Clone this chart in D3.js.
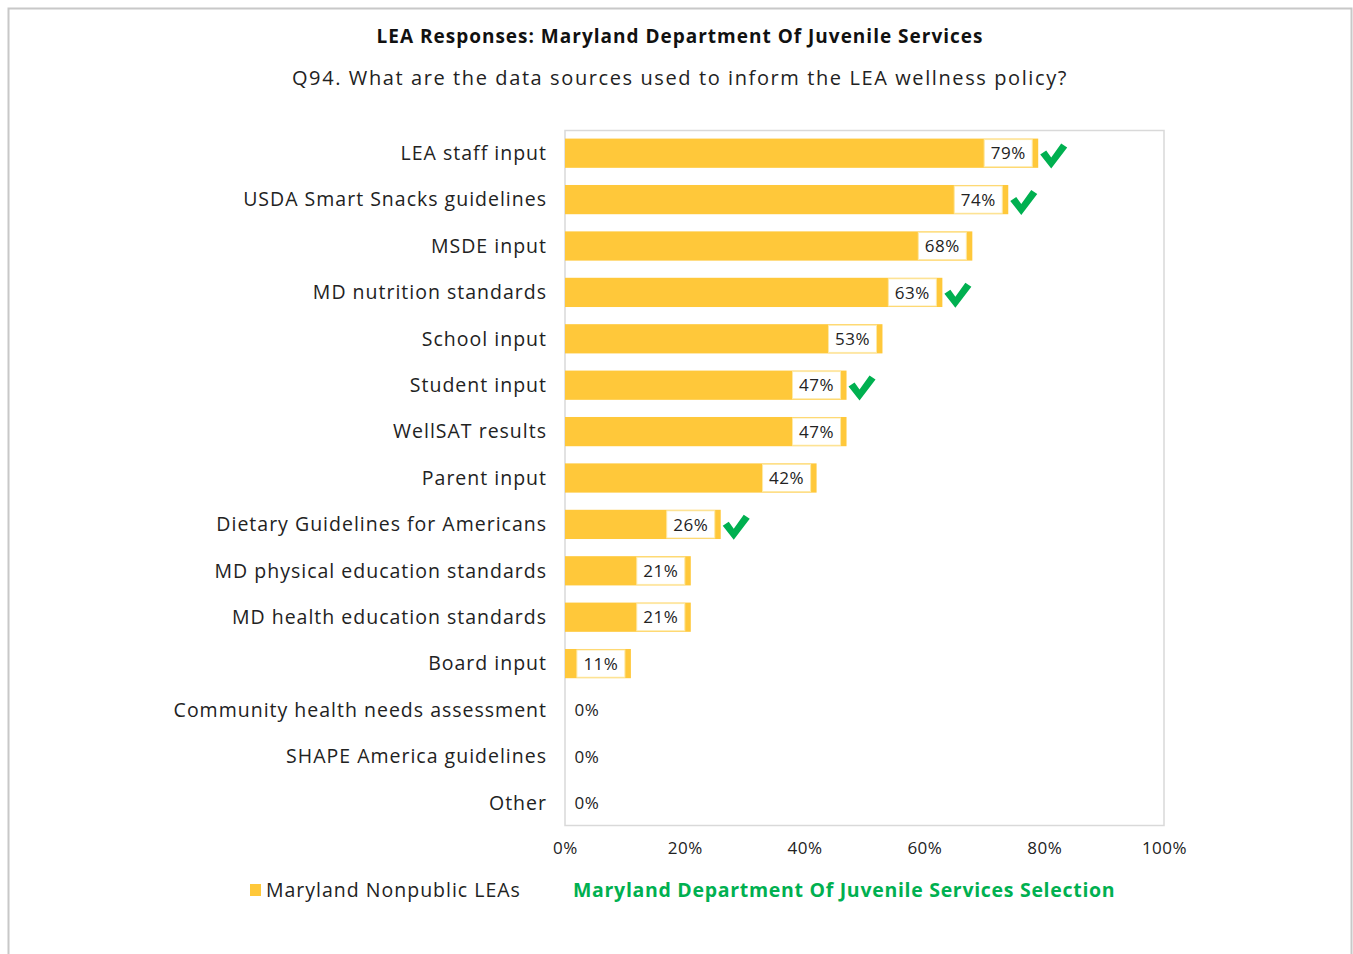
<!DOCTYPE html>
<html>
<head>
<meta charset="utf-8">
<script src="https://cdn.jsdelivr.net/npm/d3@7"></script>
<style>
  body { margin: 0; background: #fff; }
  text { font-family: "Open Sans", "Noto Sans", sans-serif; }
</style>
</head>
<body>
<svg id="chart"></svg>
<script>
var categories = ["LEA staff input", "USDA Smart Snacks guidelines", "MSDE input", "MD nutrition standards",
  "School input", "Student input", "WellSAT results", "Parent input", "Dietary Guidelines for Americans",
  "MD physical education standards", "MD health education standards", "Board input",
  "Community health needs assessment", "SHAPE America guidelines", "Other"];
var values = [79, 74, 68, 63, 53, 47, 47, 42, 26, 21, 21, 11, 0, 0, 0];
var selected = [true, true, false, true, false, true, false, false, true, false, false, false, false, false, false];
var ticks = [0, 20, 40, 60, 80, 100];

var screen = {width: 1353, height: 954};
var yellow = "#FFC83A", green = "#00B050";

var svg = d3.select("#chart")
  .attr("width", screen.width)
  .attr("height", screen.height);

// outer frame
svg.append("rect")
  .attr("x", 8.5).attr("y", 8.5)
  .attr("width", 1343).attr("height", 960)
  .attr("fill", "none").attr("stroke", "#c8c8c8").attr("stroke-width", 2);

svg.append("text")
  .attr("x", 680).attr("y", 43)
  .attr("text-anchor", "middle")
  .attr("font-size", 19).attr("font-weight", "bold")
  .attr("letter-spacing", 1)
  .attr("fill", "#111")
  .text("LEA Responses: Maryland Department Of Juvenile Services");

svg.append("text")
  .attr("x", 680).attr("y", 85)
  .attr("text-anchor", "middle")
  .attr("font-size", 20)
  .attr("letter-spacing", 1.6)
  .attr("fill", "#222")
  .text("Q94. What are the data sources used to inform the LEA wellness policy?");

var x = d3.scaleLinear().domain([0, 100]).range([565, 1164]);
var y = d3.scaleBand().domain(categories).range([130, 826]).paddingInner(0.37).paddingOuter(0.185);

// plot frame
svg.append("rect")
  .attr("x", x(0)).attr("y", 130.5)
  .attr("width", x(100) - x(0)).attr("height", 695)
  .attr("fill", "none").attr("stroke", "#d9d9d9").attr("stroke-width", 1.5);

// x axis labels
svg.append("g")
  .attr("transform", "translate(0,826)")
  .call(d3.axisBottom(x).tickValues(ticks).tickSize(0).tickPadding(16)
    .tickFormat(function(d) { return d + "%"; }))
  .call(function(g) {
    g.select(".domain").remove();
    g.selectAll("text").attr("font-size", 17).attr("fill", "#222")
      .attr("letter-spacing", 0.5)
      .attr("font-family", "'Open Sans', sans-serif");
  });

// category labels
svg.append("g")
  .selectAll("text")
  .data(categories)
  .enter()
  .append("text")
  .attr("x", 547)
  .attr("y", function(d) { return y(d) + y.bandwidth() / 2; })
  .attr("dy", "0.35em")
  .attr("text-anchor", "end")
  .attr("font-size", 19.5)
  .attr("letter-spacing", 1)
  .attr("fill", "#222")
  .text(function(d) { return d; });

var rows = svg.append("g")
  .selectAll("g")
  .data(categories)
  .enter()
  .append("g");

rows.append("rect")
  .attr("x", x(0))
  .attr("y", function(d) { return y(d); })
  .attr("width", function(d, i) { return x(values[i]) - x(0); })
  .attr("height", y.bandwidth())
  .attr("fill", yellow);

var boxW = 48;
rows.append("rect")
  .attr("x", function(d, i) { return values[i] > 0 ? x(values[i]) - 6 - boxW : x(0) + 2; })
  .attr("y", function(d) { return y(d) + 1; })
  .attr("width", boxW)
  .attr("height", y.bandwidth() - 2)
  .attr("fill", "#fff")
  .attr("stroke", function(d, i) { return values[i] > 0 ? "#fde9a8" : "none"; })
  .attr("stroke-width", 1);

rows.append("text")
  .attr("x", function(d, i) { return values[i] > 0 ? x(values[i]) - 6 - boxW / 2 : x(0) + 22; })
  .attr("y", function(d) { return y(d) + y.bandwidth() / 2; })
  .attr("dy", "0.36em")
  .attr("text-anchor", "middle")
  .attr("font-size", 17)
  .attr("letter-spacing", 0.5)
  .attr("fill", "#222")
  .text(function(d, i) { return values[i] + "%"; });

// check marks
rows.filter(function(d, i) { return selected[i]; })
  .append("path")
  .attr("transform", function(d) {
    var i = categories.indexOf(d);
    return "translate(" + (x(values[i]) + 2) + "," + (y(d) + 3) + ")";
  })
  .attr("d", "M0,13 L6,9 L11,16 L21,2 L27,6 L11,27 Z")
  .attr("fill", green);

// legend
svg.append("rect")
  .attr("x", 250).attr("y", 884)
  .attr("width", 11).attr("height", 12)
  .attr("fill", yellow);
svg.append("text")
  .attr("x", 266).attr("y", 890)
  .attr("dy", "0.35em")
  .attr("font-size", 19.5)
  .attr("letter-spacing", 1)
  .attr("fill", "#222")
  .text("Maryland Nonpublic LEAs");
svg.append("text")
  .attr("x", 573).attr("y", 890)
  .attr("dy", "0.35em")
  .attr("font-size", 19.5)
  .attr("font-weight", "bold")
  .attr("letter-spacing", 0.7)
  .attr("fill", green)
  .text("Maryland Department Of Juvenile Services Selection");
</script>
</body>
</html>
